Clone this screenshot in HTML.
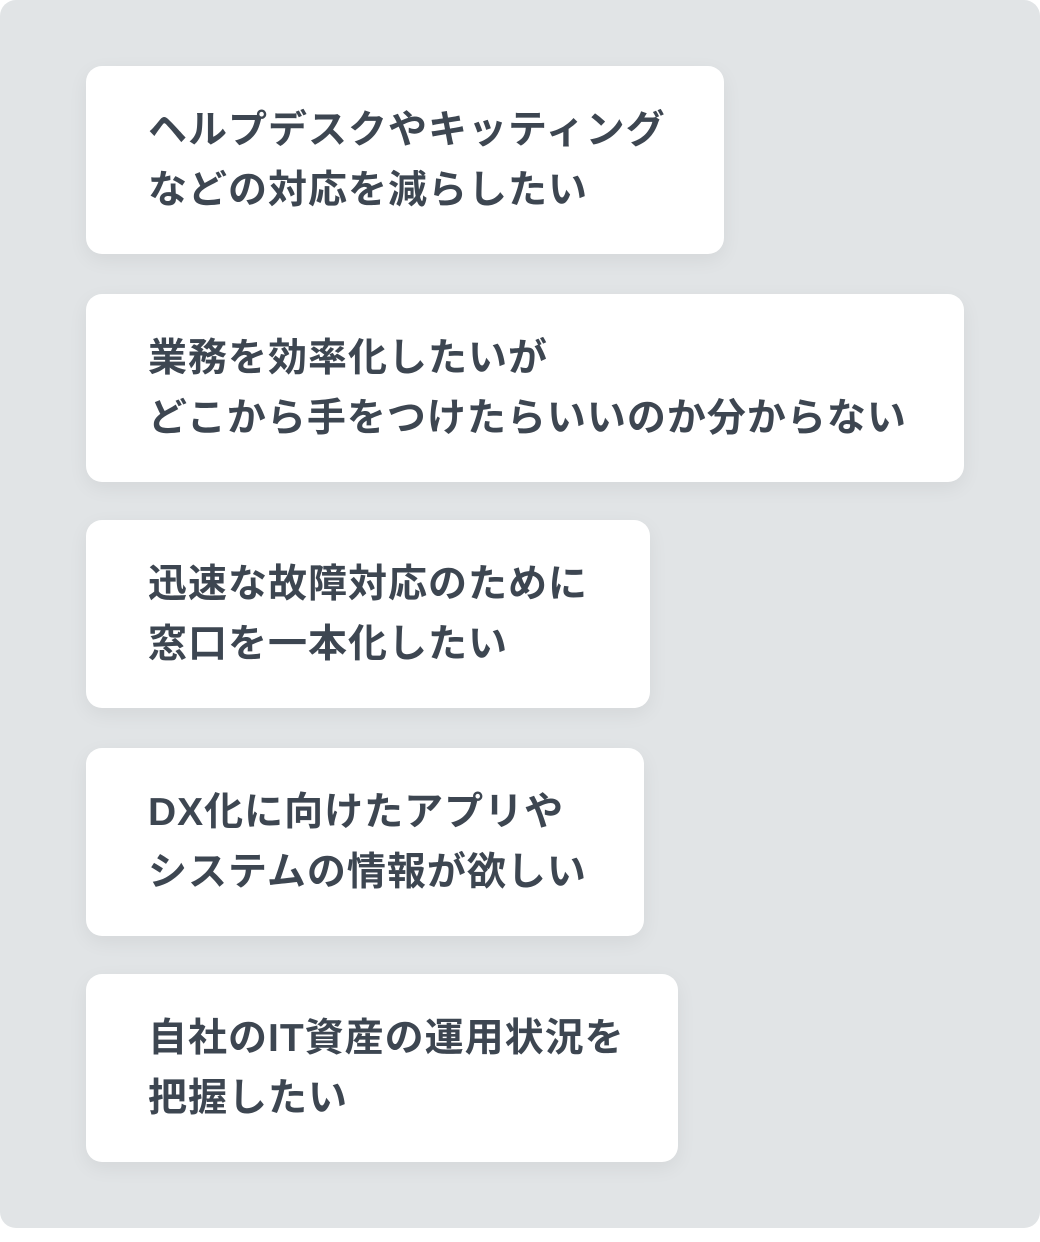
<!DOCTYPE html>
<html><head><meta charset="utf-8"><style>
html,body{margin:0;padding:0;background:#fff;width:1040px;height:1242px;overflow:hidden}
.panel{position:absolute;left:0;top:0;width:1040px;height:1228px;background:#e1e4e6;border-radius:16px}
.card{position:absolute;left:86px;height:188px;background:#fff;border-radius:16px;box-shadow:0 6px 20px rgba(0,0,0,0.06);box-sizing:border-box;padding:35px 0 0 62px;
font-family:"Liberation Sans","Noto Sans CJK JP",sans-serif;font-weight:bold;font-size:39px;letter-spacing:1px;line-height:60px;color:#3d4651;white-space:nowrap}
</style></head><body>
<div class="panel"></div>
<div class="card" style="top:66px;width:638px">ヘルプデスクやキッティング<br>などの対応を減らしたい</div>
<div class="card" style="top:294px;width:878px">業務を効率化したいが<br>どこから手をつけたらいいのか分からない</div>
<div class="card" style="top:520px;width:564px">迅速な故障対応のために<br>窓口を一本化したい</div>
<div class="card" style="top:748px;width:558px">DX化に向けたアプリや<br>システムの情報が欲しい</div>
<div class="card" style="top:974px;width:592px">自社のIT資産の運用状況を<br>把握したい</div>
</body></html>
